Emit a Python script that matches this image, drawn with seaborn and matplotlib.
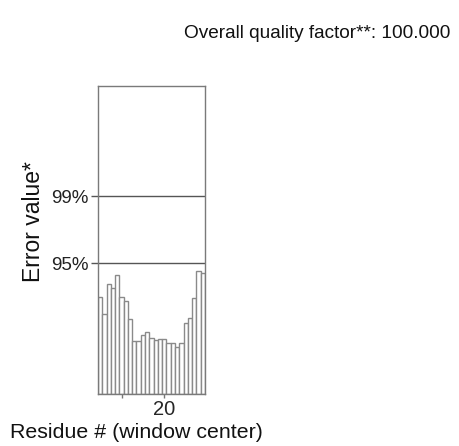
import matplotlib
matplotlib.use('Agg')
import matplotlib.pyplot as plt
import seaborn as sns
import pandas as pd

# ....................................DATOS....................................
residuos = list(range(5, 30))
error = [8.46, 6.96, 9.57, 9.22, 10.35, 8.43, 8.09, 6.52, 4.61, 4.57,
         5.13, 5.43, 4.87, 4.70, 4.78, 4.78, 4.43, 4.43, 4.09, 4.43,
         6.22, 6.65, 8.35, 10.74, 10.52]
limites = [11.382, 17.191]
etiquetas_limites = ['95%', '99%']
ticks_x = [10, 20]
etiquetas_x = ['', '20']
titulo = 'Overall quality factor**: 100.000'
# ....................................DATOS....................................

sns.set_style('white')
plt.rcParams['font.family'] = ['Liberation Sans', 'DejaVu Sans']

df = pd.DataFrame({'residuo': residuos, 'error': error})

fig = plt.figure(figsize=(4.59, 4.46), dpi=100)
ax = fig.add_axes([0.2135, 0.1166, 0.233, 0.6906])

sns.barplot(data=df, x='residuo', y='error', native_scale=True, width=1,
            color='white', edgecolor='#8a8a8a', linewidth=1, ax=ax)

# lineas de confianza
for v in limites:
    ax.axhline(v, color='#555555', lw=1)

ax.set_xlim(4.5, 29.5)
ax.set_ylim(0, 26.8)
ax.set_xticks(ticks_x)
ax.set_xticklabels(etiquetas_x, fontsize=14.5)
ax.set_yticks(limites)
ax.set_yticklabels(etiquetas_limites, fontsize=13.5, color='#222222')
ax.tick_params(axis='y', direction='out', length=5, width=1,
               color='#555555', left=True, pad=2)
ax.tick_params(axis='x', direction='out', length=3, width=1,
               color='#777777', bottom=True, pad=1)
ax.set_xlabel('')
ax.set_ylabel('')
for s in ax.spines.values():
    s.set_color('#7a7a7a')
    s.set_linewidth(1)

fig.text(0.692, 0.925, titulo, ha='center', va='center', fontsize=13.7, color='#111111')
fig.text(0.298, 0.031, 'Residue # (window center)', ha='center', va='center',
         fontsize=15.4, color='#111111')
fig.text(0.072, 0.503, 'Error value*', ha='center', va='center', rotation=90,
         fontsize=16.5, color='#111111')

fig.savefig('out.png', dpi=100)
